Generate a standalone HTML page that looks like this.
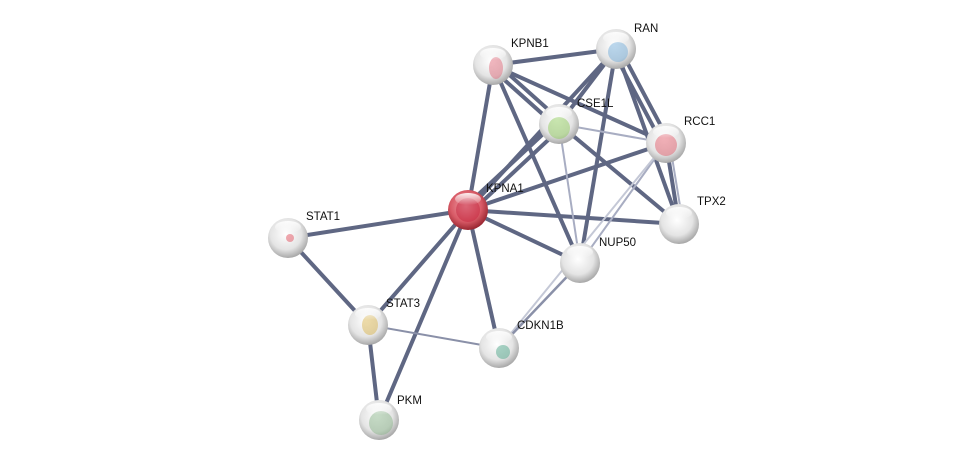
<!DOCTYPE html>
<html><head><style>
body{margin:0;background:#fff;width:975px;height:467px;overflow:hidden}
text{font-family:"Liberation Sans",sans-serif;font-size:11.5px;fill:#111}
</style></head><body>
<svg width="975" height="467" viewBox="0 0 975 467">
<defs>
<radialGradient id="g" cx="0.45" cy="0.4" r="0.65">
<stop offset="0" stop-color="#ffffff"/><stop offset="0.6" stop-color="#e4e4e4"/><stop offset="1" stop-color="#9a9a9a"/></radialGradient>
<radialGradient id="r" cx="0.45" cy="0.4" r="0.65">
<stop offset="0" stop-color="#f0a0a8"/><stop offset="0.6" stop-color="#d85a66"/><stop offset="1" stop-color="#8a1a24"/></radialGradient>
<linearGradient id="hl" x1="0" y1="0" x2="0" y2="1"><stop offset="0" stop-color="#fff" stop-opacity="0.9"/><stop offset="1" stop-color="#fff" stop-opacity="0"/></linearGradient>
</defs>
<g stroke="#5f6783" stroke-width="4" stroke-linecap="round">
<line x1="468" y1="210" x2="288" y2="238"/>
<line x1="468" y1="210" x2="368" y2="325"/>
<line x1="468" y1="210" x2="379" y2="420"/>
<line x1="468" y1="210" x2="499" y2="348"/>
<line x1="468" y1="210" x2="580" y2="263"/>
<line x1="468" y1="210" x2="679" y2="224"/>
<line x1="468" y1="210" x2="493" y2="65"/>
<line x1="466" y1="206" x2="557" y2="121"/>
<line x1="470" y1="213" x2="561" y2="128"/>
<line x1="468" y1="210" x2="616" y2="49"/>
<line x1="468" y1="210" x2="666" y2="143"/>
<line x1="288" y1="238" x2="368" y2="325"/>
<line x1="368" y1="325" x2="379" y2="420"/>
<line x1="493" y1="65" x2="616" y2="49"/>
<line x1="491" y1="68" x2="557" y2="127"/>
<line x1="495" y1="62" x2="561" y2="121"/>
<line x1="493" y1="65" x2="666" y2="143"/>
<line x1="493" y1="65" x2="580" y2="263"/>
<line x1="616" y1="49" x2="559" y2="124"/>
<line x1="616" y1="49" x2="580" y2="263"/>
<line x1="613" y1="51" x2="663" y2="145"/>
<line x1="619" y1="47" x2="669" y2="141"/>
<line x1="616" y1="49" x2="679" y2="224"/>
<line x1="559" y1="124" x2="679" y2="224"/>
<line x1="666" y1="143" x2="679" y2="224"/>
</g>
<g stroke="#a8adc2" stroke-width="2">
<line x1="368" y1="325" x2="499" y2="348" stroke="#8a90a8"/>
<line x1="559" y1="124" x2="666" y2="143"/>
<line x1="559" y1="124" x2="580" y2="263"/>
<line x1="670" y1="145" x2="683" y2="224"/>
<line x1="666" y1="143" x2="580" y2="263"/>
<line x1="666" y1="143" x2="499" y2="348" stroke="#c4c8d6"/>
<line x1="580" y1="263" x2="499" y2="348" stroke="#8a90a8" stroke-width="2.5"/>
</g>
<g>
<circle cx="493" cy="65" r="20" fill="url(#g)"/>
<circle cx="616" cy="49" r="20" fill="url(#g)"/>
<circle cx="559" cy="124" r="20" fill="url(#g)"/>
<circle cx="666" cy="143" r="20" fill="url(#g)"/>
<circle cx="468" cy="210" r="20" fill="url(#r)"/>
<circle cx="288" cy="238" r="20" fill="url(#g)"/>
<circle cx="679" cy="224" r="20" fill="url(#g)"/>
<circle cx="580" cy="263" r="20" fill="url(#g)"/>
<circle cx="368" cy="325" r="20" fill="url(#g)"/>
<circle cx="499" cy="348" r="20" fill="url(#g)"/>
<circle cx="379" cy="420" r="20" fill="url(#g)"/>
</g>
<g opacity="0.45">
<ellipse cx="496" cy="68" rx="7" ry="11" fill="#e06070"/>
<circle cx="618" cy="52" r="10" fill="#6aa8d8"/>
<circle cx="559" cy="128" r="11" fill="#88c850"/>
<circle cx="666" cy="145" r="11" fill="#e05060"/>
<circle cx="468" cy="210" r="12" fill="#c0203a"/>
<circle cx="290" cy="238" r="4" fill="#e04050"/>
<ellipse cx="370" cy="325" rx="8" ry="10" fill="#d8b040"/>
<circle cx="503" cy="352" r="7" fill="#40a080"/>
<circle cx="381" cy="423" r="12" fill="#80b080"/>
</g>
<g fill="url(#hl)">
<ellipse cx="493" cy="54" rx="13" ry="6"/><ellipse cx="616" cy="38" rx="13" ry="6"/>
<ellipse cx="559" cy="113" rx="13" ry="6"/><ellipse cx="666" cy="132" rx="13" ry="6"/>
<ellipse cx="468" cy="199" rx="13" ry="6"/><ellipse cx="288" cy="227" rx="13" ry="6"/>
<ellipse cx="679" cy="213" rx="13" ry="6"/><ellipse cx="580" cy="252" rx="13" ry="6"/>
<ellipse cx="368" cy="314" rx="13" ry="6"/><ellipse cx="499" cy="337" rx="13" ry="6"/>
<ellipse cx="379" cy="409" rx="13" ry="6"/>
</g>
<text x="511" y="47">KPNB1</text>
<text x="634" y="32">RAN</text>
<text x="577" y="107">CSE1L</text>
<text x="684" y="125">RCC1</text>
<text x="486" y="192">KPNA1</text>
<text x="306" y="220">STAT1</text>
<text x="697" y="205">TPX2</text>
<text x="599" y="246">NUP50</text>
<text x="386" y="307">STAT3</text>
<text x="517" y="329">CDKN1B</text>
<text x="397" y="404">PKM</text>
</svg>
</body></html>
